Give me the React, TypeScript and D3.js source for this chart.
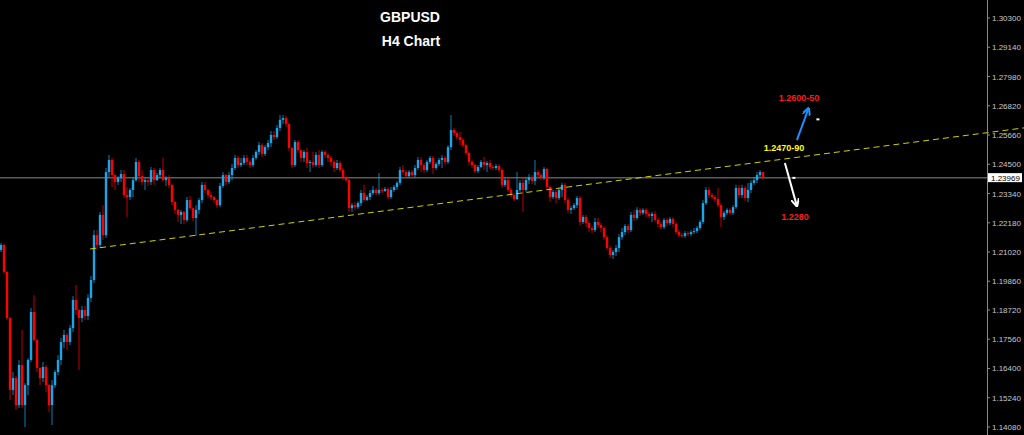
import React from 'react';
import * as d3 from 'd3';

const firstOpen = 1.2110;

const closes = [
  1.2130, 1.2023, 1.1840, 1.1555, 1.1602, 1.1495, 1.1654, 1.1495, 1.1574, 1.1674,
  1.1864, 1.1753, 1.1642, 1.1602, 1.1646, 1.1574, 1.1495, 1.1574, 1.1626, 1.1674,
  1.1745, 1.1773, 1.1745, 1.1800, 1.1912, 1.1872, 1.1840, 1.1872, 1.1848, 1.1920,
  1.1991, 1.2169, 1.2130, 1.2249, 1.2169, 1.2419, 1.2467, 1.2407, 1.2380, 1.2396,
  1.2411, 1.2328, 1.2320, 1.2348, 1.2387, 1.2459, 1.2403, 1.2380, 1.2387, 1.2380,
  1.2427, 1.2387, 1.2407, 1.2427, 1.2387, 1.2396, 1.2368, 1.2300, 1.2269, 1.2249,
  1.2261, 1.2229, 1.2308, 1.2276, 1.2237, 1.2269, 1.2308, 1.2368, 1.2348, 1.2328,
  1.2320, 1.2308, 1.2288, 1.2364, 1.2407, 1.2380, 1.2407, 1.2435, 1.2475, 1.2447,
  1.2455, 1.2475, 1.2459, 1.2447, 1.2475, 1.2499, 1.2526, 1.2491, 1.2518, 1.2534,
  1.2566, 1.2558, 1.2594, 1.2626, 1.2633, 1.2610, 1.2515, 1.2447, 1.2538, 1.2506,
  1.2475, 1.2499, 1.2455, 1.2459, 1.2447, 1.2487, 1.2447, 1.2499, 1.2487, 1.2475,
  1.2459, 1.2435, 1.2455, 1.2427, 1.2399, 1.2387, 1.2276, 1.2288, 1.2280, 1.2296,
  1.2336, 1.2308, 1.2320, 1.2336, 1.2348, 1.2336, 1.2348, 1.2344, 1.2352, 1.2320,
  1.2348, 1.2360, 1.2376, 1.2427, 1.2419, 1.2403, 1.2419, 1.2407, 1.2435, 1.2467,
  1.2447, 1.2427, 1.2459, 1.2475, 1.2435, 1.2451, 1.2467, 1.2475, 1.2459, 1.2518,
  1.2586, 1.2574, 1.2558, 1.2546, 1.2526, 1.2495, 1.2459, 1.2447, 1.2423, 1.2439,
  1.2459, 1.2447, 1.2455, 1.2439, 1.2435, 1.2443, 1.2427, 1.2368, 1.2387, 1.2348,
  1.2328, 1.2312, 1.2348, 1.2376, 1.2348, 1.2387, 1.2399, 1.2384, 1.2419, 1.2407,
  1.2396, 1.2431, 1.2360, 1.2320, 1.2340, 1.2316, 1.2348, 1.2368, 1.2308, 1.2269,
  1.2276, 1.2288, 1.2316, 1.2221, 1.2241, 1.2217, 1.2197, 1.2189, 1.2221, 1.2209,
  1.2197, 1.2161, 1.2118, 1.2090, 1.2102, 1.2118, 1.2161, 1.2181, 1.2205, 1.2189,
  1.2249, 1.2237, 1.2269, 1.2257, 1.2269, 1.2253, 1.2245, 1.2253, 1.2229, 1.2213,
  1.2201, 1.2229, 1.2217, 1.2233, 1.2213, 1.2181, 1.2169, 1.2165, 1.2177, 1.2173,
  1.2181, 1.2185, 1.2197, 1.2221, 1.2296, 1.2348, 1.2328, 1.2320, 1.2312, 1.2288,
  1.2241, 1.2257, 1.2269, 1.2257, 1.2280, 1.2356, 1.2328, 1.2356, 1.2316, 1.2348,
  1.2376, 1.2387, 1.2407, 1.2419, 1.23969,
];

const highs = [
  1.2138, 1.2134, 1.2027, 1.1844, 1.1626, 1.1610, 1.1674, 1.1793, 1.1582, 1.1681,
  1.1880, 1.1931, 1.1757, 1.1646, 1.1666, 1.1654, 1.1578, 1.1594, 1.1634, 1.1693,
  1.1761, 1.1793, 1.1781, 1.1812, 1.1927, 1.1971, 1.1876, 1.1888, 1.1888, 1.1935,
  1.2007, 1.2189, 1.2189, 1.2261, 1.2288, 1.2435, 1.2487, 1.2475, 1.2411, 1.2403,
  1.2427, 1.2427, 1.2360, 1.2356, 1.2399, 1.2475, 1.2467, 1.2427, 1.2396, 1.2396,
  1.2439, 1.2435, 1.2415, 1.2435, 1.2475, 1.2403, 1.2407, 1.2372, 1.2304, 1.2273,
  1.2269, 1.2265, 1.2320, 1.2324, 1.2280, 1.2288, 1.2316, 1.2380, 1.2380, 1.2352,
  1.2340, 1.2324, 1.2312, 1.2376, 1.2419, 1.2411, 1.2419, 1.2451, 1.2487, 1.2483,
  1.2475, 1.2487, 1.2487, 1.2467, 1.2487, 1.2506, 1.2538, 1.2534, 1.2526, 1.2546,
  1.2582, 1.2582, 1.2606, 1.2645, 1.2645, 1.2641, 1.2614, 1.2518, 1.2546, 1.2546,
  1.2510, 1.2506, 1.2515, 1.2467, 1.2499, 1.2499, 1.2506, 1.2506, 1.2506, 1.2495,
  1.2483, 1.2467, 1.2467, 1.2463, 1.2435, 1.2403, 1.2392, 1.2296, 1.2300, 1.2304,
  1.2348, 1.2368, 1.2328, 1.2348, 1.2364, 1.2356, 1.2415, 1.2356, 1.2360, 1.2360,
  1.2360, 1.2368, 1.2384, 1.2439, 1.2447, 1.2427, 1.2427, 1.2427, 1.2447, 1.2479,
  1.2479, 1.2455, 1.2467, 1.2483, 1.2483, 1.2459, 1.2475, 1.2487, 1.2483, 1.2526,
  1.2645, 1.2594, 1.2582, 1.2578, 1.2554, 1.2530, 1.2499, 1.2467, 1.2451, 1.2447,
  1.2467, 1.2479, 1.2463, 1.2467, 1.2447, 1.2451, 1.2451, 1.2435, 1.2396, 1.2396,
  1.2356, 1.2336, 1.2419, 1.2387, 1.2396, 1.2396, 1.2411, 1.2407, 1.2467, 1.2427,
  1.2415, 1.2439, 1.2435, 1.2364, 1.2348, 1.2348, 1.2356, 1.2376, 1.2376, 1.2316,
  1.2284, 1.2296, 1.2324, 1.2324, 1.2249, 1.2249, 1.2225, 1.2205, 1.2237, 1.2237,
  1.2217, 1.2205, 1.2169, 1.2126, 1.2110, 1.2130, 1.2173, 1.2197, 1.2213, 1.2213,
  1.2261, 1.2269, 1.2280, 1.2276, 1.2276, 1.2276, 1.2261, 1.2261, 1.2265, 1.2237,
  1.2221, 1.2237, 1.2237, 1.2241, 1.2241, 1.2221, 1.2189, 1.2177, 1.2185, 1.2185,
  1.2189, 1.2197, 1.2205, 1.2229, 1.2308, 1.2360, 1.2360, 1.2336, 1.2328, 1.2356,
  1.2296, 1.2265, 1.2276, 1.2276, 1.2288, 1.2368, 1.2368, 1.2368, 1.2364, 1.2376,
  1.2387, 1.2399, 1.2419, 1.2427, 1.2419,
];

const lows = [
  1.2102, 1.2015, 1.1832, 1.1515, 1.1535, 1.1475, 1.1483, 1.1483, 1.1408, 1.1535,
  1.1666, 1.1745, 1.1626, 1.1574, 1.1586, 1.1547, 1.1467, 1.1416, 1.1562, 1.1614,
  1.1654, 1.1721, 1.1713, 1.1733, 1.1785, 1.1852, 1.1634, 1.1824, 1.1832, 1.1832,
  1.1904, 1.1979, 1.2110, 1.2118, 1.2150, 1.2158, 1.2399, 1.2360, 1.2348, 1.2368,
  1.2380, 1.2316, 1.2241, 1.2308, 1.2320, 1.2380, 1.2380, 1.2368, 1.2348, 1.2364,
  1.2368, 1.2368, 1.2384, 1.2396, 1.2380, 1.2364, 1.2356, 1.2288, 1.2253, 1.2221,
  1.2213, 1.2213, 1.2221, 1.2269, 1.2225, 1.2165, 1.2253, 1.2296, 1.2336, 1.2316,
  1.2308, 1.2296, 1.2276, 1.2280, 1.2356, 1.2368, 1.2372, 1.2387, 1.2427, 1.2435,
  1.2439, 1.2447, 1.2447, 1.2435, 1.2439, 1.2467, 1.2487, 1.2479, 1.2483, 1.2506,
  1.2518, 1.2546, 1.2550, 1.2582, 1.2610, 1.2598, 1.2503, 1.2435, 1.2439, 1.2495,
  1.2459, 1.2459, 1.2435, 1.2419, 1.2435, 1.2439, 1.2435, 1.2439, 1.2475, 1.2459,
  1.2443, 1.2419, 1.2427, 1.2419, 1.2387, 1.2380, 1.2261, 1.2261, 1.2269, 1.2273,
  1.2284, 1.2300, 1.2304, 1.2308, 1.2328, 1.2328, 1.2328, 1.2336, 1.2340, 1.2312,
  1.2312, 1.2340, 1.2348, 1.2368, 1.2407, 1.2396, 1.2396, 1.2399, 1.2399, 1.2427,
  1.2419, 1.2415, 1.2419, 1.2451, 1.2411, 1.2427, 1.2443, 1.2435, 1.2447, 1.2451,
  1.2506, 1.2562, 1.2546, 1.2526, 1.2518, 1.2487, 1.2447, 1.2435, 1.2415, 1.2415,
  1.2435, 1.2427, 1.2419, 1.2431, 1.2427, 1.2427, 1.2419, 1.2356, 1.2360, 1.2340,
  1.2320, 1.2304, 1.2308, 1.2340, 1.2261, 1.2340, 1.2372, 1.2372, 1.2368, 1.2396,
  1.2387, 1.2387, 1.2352, 1.2300, 1.2312, 1.2296, 1.2308, 1.2320, 1.2296, 1.2257,
  1.2253, 1.2269, 1.2276, 1.2209, 1.2213, 1.2201, 1.2181, 1.2177, 1.2181, 1.2197,
  1.2181, 1.2150, 1.2110, 1.2078, 1.2074, 1.2086, 1.2102, 1.2150, 1.2169, 1.2177,
  1.2181, 1.2225, 1.2229, 1.2245, 1.2249, 1.2241, 1.2237, 1.2221, 1.2221, 1.2201,
  1.2193, 1.2193, 1.2205, 1.2209, 1.2201, 1.2173, 1.2161, 1.2158, 1.2158, 1.2165,
  1.2165, 1.2173, 1.2177, 1.2189, 1.2213, 1.2288, 1.2316, 1.2312, 1.2300, 1.2280,
  1.2201, 1.2229, 1.2249, 1.2249, 1.2249, 1.2273, 1.2316, 1.2316, 1.2304, 1.2300,
  1.2336, 1.2368, 1.2376, 1.2399, 1.2387,
];

const tickValues = [
  1.303, 1.2914, 1.2798, 1.2682, 1.2566, 1.245, 1.2334, 1.2218,
  1.2102, 1.1986, 1.1872, 1.1756, 1.164, 1.1524, 1.1408,
];
const tickLabels = [
  '1.30300', '1.29140', '1.27980', '1.26820', '1.25660', '1.24500', '1.23340', '1.22180',
  '1.21020', '1.19860', '1.18720', '1.17560', '1.16400', '1.15240', '1.14080',
];
const lastPriceLabel = '1.23969';

const titleLines = ['GBPUSD', 'H4 Chart'];

// trendline anchors: [bar index, price]
const trendStart = [29.7, 1.2114];
const trendEnd = [254, 1.2460];

// annotation anchors [bar index, price]
const targetUpText = '1.2600-50';
const targetUpPos = [266, 1.2701];
const pivotText = '1.2470-90';
const pivotPos = [261, 1.2503];
const targetDownText = '1.2280';
const targetDownPos = [264.7, 1.2229];
const upArrow = [[265.3, 1.2546], [269.2, 1.2672]];
const downArrow = [[261.3, 1.2455], [265.3, 1.2284]];
const markers = [[272.3, 1.2628], [264.3, 1.2396]];

const BULL = '#1ba6ea';
const BEAR = '#ff0000';

export default function App() {
  const W = 1024;
  const H = 435;
  const axisX = 987;
  const x = d3.scaleLinear().domain([0, closes.length - 1]).range([1, 763]);
  const y = d3.scaleLinear().domain([1.1408, 1.303]).range([427, 18]);

  const candles = closes.map((c, i) => {
    const o = i === 0 ? firstOpen : closes[i - 1];
    const hi = Math.max(highs[i], o, c);
    const lo = Math.min(lows[i], o, c);
    return { i, o, c, hi, lo };
  });

  const slope = (trendEnd[1] - trendStart[1]) / (trendEnd[0] - trendStart[0]);
  const endIdx = x.invert(W);
  const trendEndPrice = trendStart[1] + slope * (endIdx - trendStart[0]);

  const lastY = y(closes[closes.length - 1]);

  return (
    <svg
      width={W}
      height={H}
      style={{ position: 'absolute', left: 0, top: 0, background: '#000' }}
    >
      <defs>
        <marker id="headBlue" viewBox="0 0 10 10" refX="9" refY="5" markerWidth="4" markerHeight="4" orient="auto">
          <path d="M0,0 L10,5 L0,10" fill="none" stroke="#1e90ff" strokeWidth="2.5" />
        </marker>
        <marker id="headWhite" viewBox="0 0 10 10" refX="9" refY="5" markerWidth="4" markerHeight="4" orient="auto">
          <path d="M0,0 L10,5 L0,10" fill="none" stroke="#ffffff" strokeWidth="2.5" />
        </marker>
      </defs>
      <rect x={0} y={0} width={W} height={H} fill="#000" />

      {/* current price line */}
      <line x1={0} x2={axisX} y1={lastY} y2={lastY} stroke="#5c5c5c" strokeWidth={1.5} />

      {/* candles */}
      {candles.map((d) => {
        const col = d.c >= d.o ? BULL : BEAR;
        const cx = x(d.i);
        const top = y(Math.max(d.o, d.c));
        const bot = y(Math.min(d.o, d.c));
        return (
          <g key={d.i}>
            <line x1={cx} x2={cx} y1={y(d.hi)} y2={y(d.lo)} stroke={col} strokeWidth={1} strokeOpacity={0.75} />
            <rect x={cx - 1.2} y={top} width={2.4} height={Math.max(1, bot - top)} fill={col} />
          </g>
        );
      })}

      {/* trendline */}
      <line
        x1={x(trendStart[0])}
        y1={y(trendStart[1])}
        x2={x(endIdx)}
        y2={y(trendEndPrice)}
        stroke="#d2d200"
        strokeWidth={1}
        strokeDasharray="6,4"
      />

      {/* arrows */}
      <line
        x1={x(upArrow[0][0])} y1={y(upArrow[0][1])}
        x2={x(upArrow[1][0])} y2={y(upArrow[1][1])}
        stroke="#1e90ff" strokeWidth={2} markerEnd="url(#headBlue)"
      />
      <line
        x1={x(downArrow[0][0])} y1={y(downArrow[0][1])}
        x2={x(downArrow[1][0])} y2={y(downArrow[1][1])}
        stroke="#ffffff" strokeWidth={2} markerEnd="url(#headWhite)"
      />
      {markers.map((m, k) => (
        <line key={k} x1={x(m[0]) - 1.5} x2={x(m[0]) + 1.5} y1={y(m[1])} y2={y(m[1])} stroke="#fff" strokeWidth={2} />
      ))}

      {/* annotation texts */}
      <g fontFamily="'Liberation Sans', Arial, sans-serif" fontWeight="bold" fontSize={9} textAnchor="middle">
        <text x={x(targetUpPos[0])} y={y(targetUpPos[1])} fill="#ff1a1a">{targetUpText}</text>
        <text x={x(pivotPos[0])} y={y(pivotPos[1])} fill="#ffff00">{pivotText}</text>
        <text x={x(targetDownPos[0])} y={y(targetDownPos[1])} fill="#ff1a1a">{targetDownText}</text>
      </g>

      {/* title */}
      <g fontFamily="'Liberation Sans', Arial, sans-serif" fontWeight="bold" fontSize={14} fill="#ffffff" textAnchor="middle">
        <text x={410} y={22}>{titleLines[0]}</text>
        <text x={411} y={46}>{titleLines[1]}</text>
      </g>

      {/* right axis */}
      <line x1={axisX + 0.5} x2={axisX + 0.5} y1={0} y2={H} stroke="#8a8a8a" strokeWidth={1} />
      <g fontFamily="'Liberation Sans', Arial, sans-serif" fontSize={8} fill="#c8c8c8">
        {tickValues.map((v, k) => (
          <g key={k}>
            <line x1={axisX} x2={axisX + 3} y1={y(v)} y2={y(v)} stroke="#8a8a8a" />
            <text x={992} y={y(v) + 3}>{tickLabels[k]}</text>
          </g>
        ))}
      </g>
      <rect x={988} y={lastY - 4.5} width={34} height={9} fill="#ffffff" />
      <text x={991} y={lastY + 3} fontFamily="'Liberation Sans', Arial, sans-serif" fontSize={8} fill="#000">
        {lastPriceLabel}
      </text>
    </svg>
  );
}
